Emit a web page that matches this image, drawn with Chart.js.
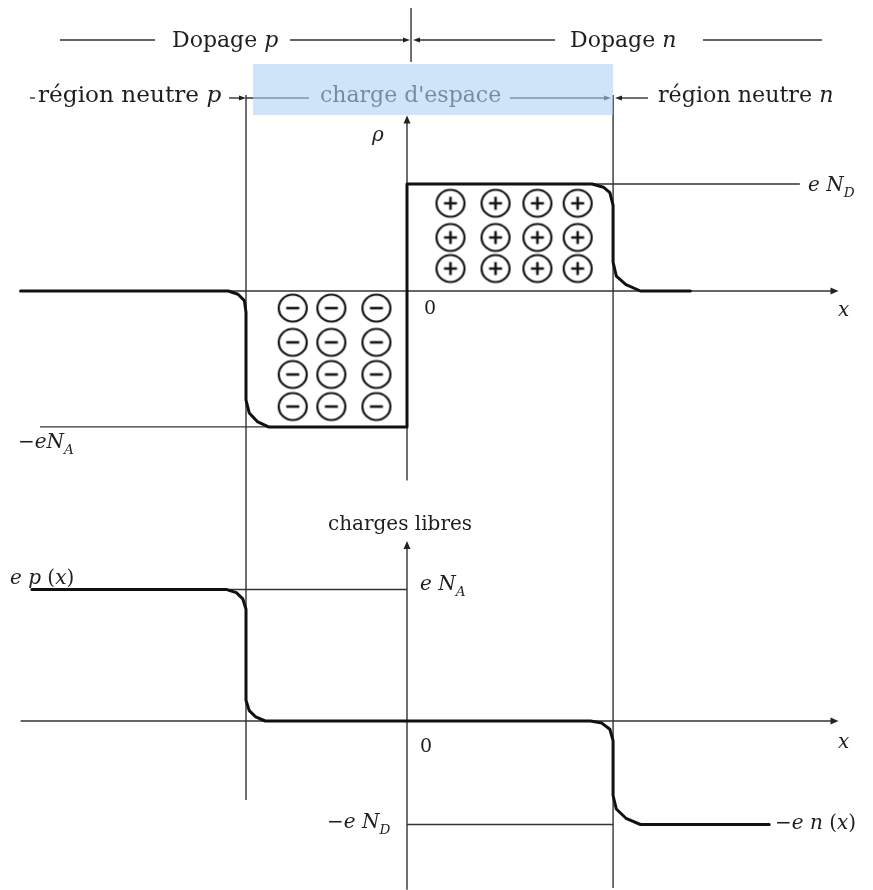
<!DOCTYPE html>
<html><head><meta charset="utf-8">
<script src="https://cdn.jsdelivr.net/npm/chart.js@4/dist/chart.umd.min.js"></script>
<style>html,body{margin:0;padding:0;background:#fff;} #wrap{position:relative;width:873px;height:890px;}</style>
</head><body><div id="wrap"><canvas id="c" width="873" height="890"></canvas></div>
<script>
// ---- Data (units: N_D = 1, x_p = 1) ----
const N_D = 1.0, N_A = 1.27, X_P = 1.0, X_N = 1.28;
// charge density rho(x) (top panel)
const rhoX = [-2.40, -1.11, -1.05, -1.01, -1.00, -1.00, -0.98, -0.93, -0.86, 0.00, 0.00, 1.15, 1.22, 1.26, 1.28, 1.28, 1.30, 1.36, 1.45, 1.76];
const rhoY = [0.00, 0.00, -0.03, -0.09, -0.20, -1.02, -1.14, -1.22, -1.27, -1.27, 1.00, 1.00, 0.97, 0.92, 0.80, 0.27, 0.14, 0.06, 0.00, 0.00];
// free charges e p(x) - e n(x) (bottom panel)
const freeX = [-2.33, -1.12, -1.06, -1.02, -1.00, -1.00, -0.98, -0.94, -0.88, 1.14, 1.21, 1.26, 1.28, 1.28, 1.30, 1.36, 1.45, 2.25];
const freeY = [1.27, 1.27, 1.24, 1.18, 1.08, 0.20, 0.10, 0.04, 0.00, 0.00, -0.02, -0.08, -0.19, -0.72, -0.85, -0.94, -1.00, -1.00];
// fixed ions in the space-charge region
const ionPlusX = [0.27, 0.55, 0.81, 1.06];
const ionPlusY = [0.82, 0.50, 0.21];
const ionMinusX = [-0.71, -0.47, -0.19];
const ionMinusY = [-0.16, -0.48, -0.78, -1.08];

// ---- helpers ----
const W = 873, H = 890, X0PX = 407, PXU = 161, YT0 = 291, PYT = 107, YB0 = 721, PYB = 103.5;
const FONT = '"DejaVu Serif", "Liberation Serif", serif';
function pts(xs, ys){ return xs.map((x,i)=>({x, y: ys[i]})); }
function grid(xs, ys){ const o=[]; ys.forEach(y=>xs.forEach(x=>o.push({x,y}))); return o; }
function ionImg(sign){
  const c=document.createElement('canvas'); c.width=34; c.height=34;
  const g=c.getContext('2d'); g.strokeStyle='#151515';
  g.lineWidth=2.2; g.beginPath(); g.ellipse(17,17,14,13.5,0,0,Math.PI*2); g.stroke();
  g.lineWidth=2.6; g.beginPath(); g.moveTo(10.5,17); g.lineTo(23.5,17);
  if(sign>0){ g.moveTo(17,10.5); g.lineTo(17,23.5); }
  g.stroke(); return c;
}
function line(ctx,x1,y1,x2,y2){ ctx.beginPath(); ctx.moveTo(x1,y1); ctx.lineTo(x2,y2); ctx.stroke(); }
function arrow(ctx,x,y,dir,len=8,hw=3.5){
  ctx.beginPath();
  if(dir==='r'){ ctx.moveTo(x,y); ctx.lineTo(x-len,y-hw); ctx.lineTo(x-len,y+hw); }
  else if(dir==='l'){ ctx.moveTo(x,y); ctx.lineTo(x+len,y-hw); ctx.lineTo(x+len,y+hw); }
  else if(dir==='u'){ ctx.moveTo(x,y); ctx.lineTo(x-hw,y+len); ctx.lineTo(x+hw,y+len); }
  ctx.closePath(); ctx.fill();
}
function rich(ctx, segs, x, y, size, align){
  let w=0; const m=[];
  segs.forEach(s=>{ const sz = s.s ? size*0.68 : size; const f=(s.i?'italic ':'')+sz+'px '+FONT; ctx.font=f; const ww=ctx.measureText(s.t).width; m.push({f,ww,s}); w+=ww; });
  let cx = align==='center' ? x-w/2 : x;
  m.forEach(o=>{ ctx.font=o.f; ctx.fillText(o.s.t, cx, y + (o.s.s ? size*0.3 : 0)); cx+=o.ww; });
}

const diagram = {
  id:'diagram',
  beforeDatasetsDraw(chart){
    const ctx=chart.ctx, sx=chart.scales.x, st=chart.scales.yTop, sb=chart.scales.yBot;
    const X=v=>sx.getPixelForValue(v), YT=v=>st.getPixelForValue(v), YB=v=>sb.getPixelForValue(v);
    ctx.save();
    ctx.strokeStyle='#333'; ctx.fillStyle='#222'; ctx.lineWidth=1.4;
    // top panel axes
    line(ctx, X(-2.40), YT(0), X(2.64), YT(0)); arrow(ctx, X(2.68), YT(0), 'r');
    line(ctx, X(0), YT(-1.77), X(0), YT(1.58)); arrow(ctx, X(0), YT(1.64), 'u');
    line(ctx, X(0), YT(N_D), X(2.44), YT(N_D));
    line(ctx, X(-2.28), YT(-N_A), X(0), YT(-N_A));
    // bottom panel axes
    line(ctx, X(-2.40), YB(0), X(2.64), YB(0)); arrow(ctx, X(2.68), YB(0), 'r');
    line(ctx, X(0), YB(-1.63), X(0), YB(1.68)); arrow(ctx, X(0), YB(1.74), 'u');
    line(ctx, X(-1.12), YB(N_A), X(0), YB(N_A));
    line(ctx, X(0), YB(-N_D), X(X_N), YB(-N_D));
    // space-charge boundaries
    line(ctx, X(-X_P), 95, X(-X_P), 800);
    line(ctx, X(X_N), 95, X(X_N), 888);
    // header row 1
    line(ctx, X(0.025), 8, X(0.025), 62);
    line(ctx, 60, 40, 155, 40);
    line(ctx, 290, 40, 404, 40); arrow(ctx, 410, 40, 'r', 7, 2.5);
    line(ctx, 418, 40, 555, 40); arrow(ctx, 413, 40, 'l', 7, 2.5);
    line(ctx, 703, 40, 822, 40);
    // header row 2
    line(ctx, 30, 98, 35, 98);
    line(ctx, 229, 98, 240, 98); arrow(ctx, 246, 98, 'r', 7, 2.5);
    line(ctx, X(-X_P), 98, 309, 98);
    line(ctx, 510, 98, 605, 98); arrow(ctx, 611, 98, 'r', 7, 2.5);
    line(ctx, 622, 98, 648, 98); arrow(ctx, 615, 98, 'l', 7, 2.5);
    ctx.restore();
  },
  afterDatasetsDraw(chart){
    const ctx=chart.ctx;
    ctx.save(); ctx.fillStyle='#1e1e1e'; ctx.textBaseline='alphabetic';
    rich(ctx,[{t:'Dopage '},{t:'p',i:1}],172,47,22);
    rich(ctx,[{t:'Dopage '},{t:'n',i:1}],570,47,22);
    rich(ctx,[{t:'région neutre '},{t:'p',i:1}],38,102,23.2);
    rich(ctx,[{t:'région neutre '},{t:'n',i:1}],658,102,22.2);
    rich(ctx,[{t:"charge d'espace"}],320,102,22);
    rich(ctx,[{t:'ρ',i:1}],372,141,20);
    rich(ctx,[{t:'e N',i:1},{t:'D',i:1,s:1}],808,191,20);
    rich(ctx,[{t:'0'}],424,314,19);
    rich(ctx,[{t:'x',i:1}],838,316,20);
    rich(ctx,[{t:'−eN',i:1},{t:'A',i:1,s:1}],18,448,20);
    rich(ctx,[{t:'charges libres'}],400,530,20,'center');
    rich(ctx,[{t:'e p ',i:1},{t:'('},{t:'x',i:1},{t:')'}],10,584,20);
    rich(ctx,[{t:'e N',i:1},{t:'A',i:1,s:1}],420,590,20);
    rich(ctx,[{t:'0'}],420,752,19);
    rich(ctx,[{t:'x',i:1}],838,748,20);
    rich(ctx,[{t:'−e N',i:1},{t:'D',i:1,s:1}],327,828,20);
    rich(ctx,[{t:'−e n ',i:1},{t:'('},{t:'x',i:1},{t:')'}],775,829,20);
    // space charge highlight
    ctx.fillStyle='rgba(175,208,245,0.6)';
    ctx.fillRect(253,64,360,51);
    ctx.restore();
  }
};

new Chart(document.getElementById('c'), {
  type:'scatter',
  data:{ datasets:[
    { label:'ρ(x)', data: pts(rhoX, rhoY), yAxisID:'yTop', showLine:true, borderColor:'#111', borderWidth:3, pointRadius:0, tension:0, borderJoinStyle:'round', borderCapStyle:'round' },
    { label:'charges libres', data: pts(freeX, freeY), yAxisID:'yBot', showLine:true, borderColor:'#111', borderWidth:3, pointRadius:0, tension:0, borderJoinStyle:'round', borderCapStyle:'round' },
    { label:'ions +', data: grid(ionPlusX, ionPlusY), yAxisID:'yTop', pointStyle: ionImg(1), pointRadius:15 },
    { label:'ions −', data: grid(ionMinusX, ionMinusY), yAxisID:'yTop', pointStyle: ionImg(-1), pointRadius:15 }
  ]},
  options:{
    responsive:false, animation:false, devicePixelRatio:1,
    layout:{ padding:0, autoPadding:false },
    plugins:{ legend:{display:false}, tooltip:{enabled:false} },
    scales:{
      x:{ type:'linear', display:false, min:-X0PX/PXU, max:(W-X0PX)/PXU },
      yTop:{ type:'linear', display:false, position:'left', min:-(H-YT0)/PYT, max:YT0/PYT },
      yBot:{ type:'linear', display:false, position:'right', min:-(H-YB0)/PYB, max:YB0/PYB }
    }
  },
  plugins:[diagram]
});
</script></body></html>
